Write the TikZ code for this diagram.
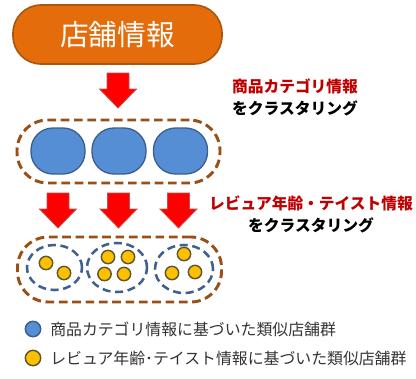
\documentclass[tikz,border=0pt]{standalone}
\usepackage{fontspec}
\setmainfont{Noto Sans CJK JP}
\usetikzlibrary{shapes.geometric}
\definecolor{orfill}{HTML}{E46C0A}
\definecolor{ordraw}{HTML}{A9570F}
\definecolor{bfill}{HTML}{558ED5}
\definecolor{bdraw}{HTML}{3B5F8C}
\definecolor{brdash}{HTML}{985016}
\definecolor{bldash}{HTML}{3E6090}
\definecolor{yfill}{HTML}{FFC000}
\definecolor{ydraw}{HTML}{5E5832}
\definecolor{lbred}{HTML}{C00000}
\definecolor{arred}{HTML}{FF0000}
\definecolor{ardraw}{HTML}{C0504D}
\definecolor{legtxt}{HTML}{333333}
\tikzset{
  topbox/.style={draw=ordraw, fill=orfill, line width=1.2pt, rounded corners=21pt, minimum width=156.75pt, minimum height=44.25pt, text=white, font=\fontsize{21.5}{24}\selectfont, inner sep=0pt},
  bluebox/.style={draw=bdraw, fill=bfill, line width=1pt, rounded corners=16.5pt, minimum width=40.5pt, minimum height=34.5pt, inner sep=0pt},
  clusterbox/.style={draw=brdash, line width=2.2pt, dash pattern=on 6.5pt off 3.5pt, rounded corners=23pt, inner sep=0pt},
  subcluster/.style={ellipse, draw=bldash, line width=1.9pt, dash pattern=on 6pt off 3.5pt, inner sep=0pt},
  ydot/.style={circle, draw=ydraw, fill=yfill, line width=1.1pt, minimum size=10pt, inner sep=0pt},
  bdot/.style={circle, draw=bdraw, fill=bfill, line width=1.1pt, minimum size=11.5pt, inner sep=0pt},
  ydotleg/.style={circle, draw=ydraw, fill=yfill, line width=1.1pt, minimum size=11.5pt, inner sep=0pt},
  redlab/.style={text=lbred, font=\bfseries\fontsize{11.8}{14}\selectfont, inner sep=0pt},
  blklab/.style={text=black, font=\bfseries\fontsize{11.8}{14}\selectfont, inner sep=0pt},
  legend/.style={text=legtxt, font=\fontsize{11.9}{14}\selectfont, inner sep=0pt, anchor=west},
  blockarrow/.style={fill=arred, draw=ardraw, line width=0.6pt}
}
\newcommand{\blockarrowat}[3]{% x, ytop, ytip
  \fill[blockarrow] (#1-11,#2) -- (#1+11,#2) -- (#1+11,#2+16) -- (#1+18.5,#2+16) -- (#1,#3) -- (#1-18.5,#2+16) -- (#1-11,#2+16) -- cycle;
}
\begin{document}
\begin{tikzpicture}[x=0.75pt,y=-0.75pt]
\useasboundingbox (0,0) rectangle (416,378);
% top box
\node[topbox] (shop) at (117.5,34.5) {店舗情報};
% arrow 1
\blockarrowat{118}{73}{108}
% labels 1
\node[redlab] (lab1a) at (295,86) {商品カテゴリ情報};
\node[blklab] (lab1b) at (295,108) {をクラスタリング};
% cluster box 1
\node[clusterbox, minimum width=152.25pt, minimum height=47.25pt] (c1) at (118.5,151.5) {};
\node[bluebox] (b1) at (58,151) {};
\node[bluebox] (b2) at (119,151) {};
\node[bluebox] (b3) at (180.5,151) {};
% arrows row 2
\blockarrowat{58}{193}{228}
\blockarrowat{118.5}{193}{228}
\blockarrowat{178.5}{193}{228}
% labels 2
\node[redlab] (lab2a) at (311,203.5) {レビュア年齢・テイスト情報};
\node[blklab] (lab2b) at (311,225) {をクラスタリング};
% cluster box 2
\node[clusterbox, minimum width=153pt, minimum height=48.75pt] (c2) at (119.5,269.5) {};
\node[subcluster, minimum width=41.25pt, minimum height=33.75pt] (s1) at (54.5,267.5) {};
\node[subcluster, minimum width=45pt, minimum height=36.75pt] (s2) at (117,267.5) {};
\node[subcluster, minimum width=43.5pt, minimum height=36pt] (s3) at (184,269) {};
\node[ydot] (y1) at (46,263) {};
\node[ydot] (y2) at (64,273) {};
\node[ydot] (y3) at (108,257) {};
\node[ydot] (y4) at (128,257) {};
\node[ydot] (y5) at (104.5,274) {};
\node[ydot] (y6) at (124,274) {};
\node[ydot] (y7) at (184,254) {};
\node[ydot] (y8) at (172,273) {};
\node[ydot] (y9) at (195,272) {};
% legend
\node[bdot] (lb) at (33,329) {};
\node[legend] (lbt) at (50,329) {商品カテゴリ情報に基づいた類似店舗群};
\node[ydotleg] (ly) at (33,358) {};
\node[legend] (lyt) at (50,358) {レビュア年齢･テイスト情報に基づいた類似店舗群};
\end{tikzpicture}
\end{document}
